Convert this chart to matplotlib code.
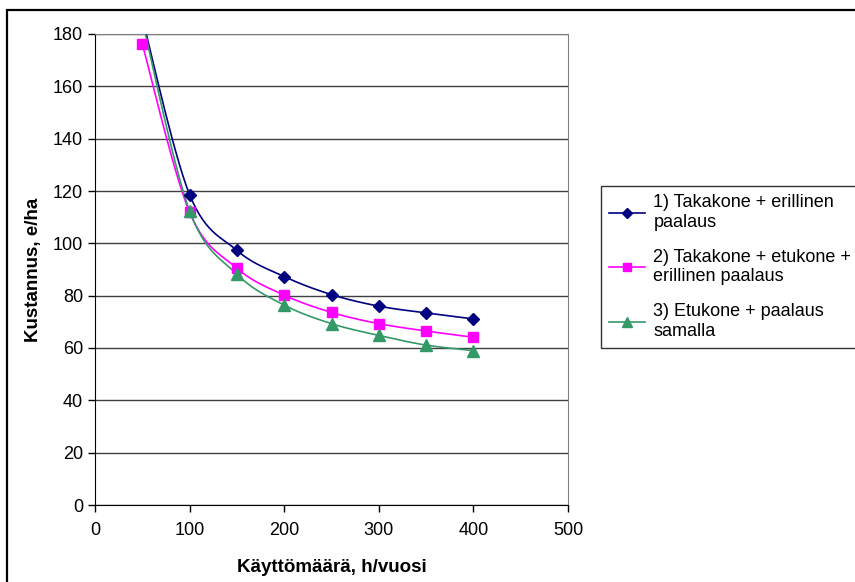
import numpy as np
import matplotlib.pyplot as plt
from matplotlib.patches import Rectangle

plt.rcParams['font.family'] = ['Liberation Sans', 'DejaVu Sans']

kaytto = [50, 100, 150, 200, 250, 300, 350, 400]
takakone = [186, 118.6, 97.3, 87.3, 80.4, 76.0, 73.4, 71.1]
taka_etu = [176.2, 111.9, 90.5, 80.2, 73.6, 69.3, 66.5, 64.1]
etukone = [185, 112.4, 88.2, 76.4, 69.3, 64.8, 61.1, 59.0]

nimet = ['1) Takakone + erillinen\npaalaus',
         '2) Takakone + etukone +\nerillinen paalaus',
         '3) Etukone + paalaus\nsamalla']
varit = ['#000080', '#FF00FF', '#339966']
merkit = ['D', 's', '^']
koot = [6, 7, 8]


def pehmea(x, y, n=30):
    # tasoitettu kayra pisteiden kautta (bezier, catmull-rom)
    x = np.asarray(x, float)
    y = np.asarray(y, float)
    p = np.column_stack([x, y])
    ext = np.vstack([p[0], p, p[-1]])
    out = []
    t = np.linspace(0, 1, n)[:, None]
    for i in range(len(p) - 1):
        p0, p1, p2, p3 = ext[i], ext[i + 1], ext[i + 2], ext[i + 3]
        c1 = p1 + (p2 - p0) / 6
        c2 = p2 - (p3 - p1) / 6
        seg = ((1 - t) ** 3) * p1 + 3 * ((1 - t) ** 2) * t * c1 + 3 * (1 - t) * t ** 2 * c2 + t ** 3 * p2
        out.append(seg if i == 0 else seg[1:])
    out = np.vstack(out)
    return out[:, 0], out[:, 1]


fig = plt.figure(figsize=(8.55, 5.82), dpi=100)
ax = fig.add_axes([95 / 855, 1 - 505 / 582, (568 - 95) / 855, (505 - 34) / 582])

for y, nimi, c, m, s in zip([takakone, taka_etu, etukone], nimet, varit, merkit, koot):
    xs, ys = pehmea(kaytto, y)
    ax.plot(xs, ys, color=c, lw=1.2, zorder=3)
    ax.plot(kaytto, y, ls='none', marker=m, ms=s, color=c, zorder=4)
    ax.plot([], [], color=c, lw=1.2, marker=m, ms=s - 1, label=nimi)

ax.set_xlim(0, 500)
ax.set_ylim(0, 180)
ax.set_xticks(range(0, 501, 100))
ax.set_yticks(range(0, 181, 20))
ax.yaxis.grid(True, color='#404040', lw=1)
ax.set_axisbelow(True)
ax.tick_params(direction='out', length=5, width=1, labelsize=13, colors='black')
ax.tick_params(axis='x', pad=7)
ax.spines['left'].set_color('black')
ax.spines['bottom'].set_color('black')
ax.spines['top'].set_color('#808080')
ax.spines['right'].set_color('#808080')

ax.set_xlabel('Käyttömäärä, h/vuosi', fontsize=13.5, fontweight='bold', labelpad=15)
ax.set_ylabel('Kustannus, e/ha', fontsize=13.5, fontweight='bold', labelpad=8)

leg = fig.legend(loc='upper left', bbox_to_anchor=(601 / 855, 1 - 186 / 582),
                 fontsize=13, frameon=True, fancybox=False, handlelength=2.0,
                 borderpad=0.45, labelspacing=1.0, handletextpad=0.45, borderaxespad=0)
leg.get_frame().set_edgecolor('black')
leg.get_frame().set_linewidth(1)

# ulkokehys
fig.patches.append(Rectangle((7 / 855, -0.05), 1.0, 1 - 10 / 582 + 0.05,
                             transform=fig.transFigure, fill=False, ec='black', lw=1.6))

fig.savefig('out.png', dpi=100)
